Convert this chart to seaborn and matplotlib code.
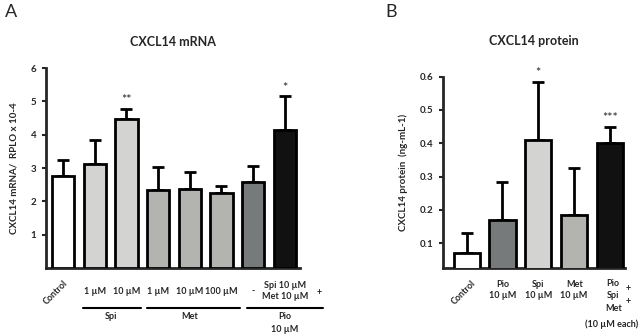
import matplotlib.pyplot as plt
import matplotlib.transforms as mtransforms
import numpy as np
import pandas as pd
import seaborn as sns

# Panel A: CXCL14 mRNA
mrna_groups = ['Control', 'Spi 1', 'Spi 10', 'Met 1', 'Met 10', 'Met 100', 'Pio', 'Pio+Spi+Met']
mrna_mean = [2.75, 3.12, 4.47, 2.33, 2.38, 2.25, 2.58, 4.15]
mrna_sem = [0.50, 0.73, 0.31, 0.70, 0.49, 0.20, 0.47, 1.00]
mrna_stars = ['', '', '**', '', '', '', '', '*']
mrna_ticklabels = ['1 µM', '10 µM', '1 µM', '10 µM', '100 µM', '-', 'Spi 10 µM\nMet 10 µM']

# Panel B: CXCL14 protein
prot_groups = ['Control', 'Pio', 'Spi', 'Met', 'Pio+Spi+Met']
prot_mean = [0.070, 0.170, 0.410, 0.185, 0.400]
prot_sem = [0.060, 0.115, 0.175, 0.140, 0.050]
prot_stars = ['', '', '*', '', '***']
prot_ticklabels = ['Pio\n10 µM', 'Spi\n10 µM', 'Met\n10 µM', 'Pio\nSpi\nMet']

WHITE, SPI, MET, PIO, COMBO = '#ffffff', '#d3d3d1', '#b4b3af', '#757a7c', '#111111'
mrna_colors = [WHITE, SPI, SPI, MET, MET, MET, PIO, COMBO]
prot_colors = [WHITE, PIO, SPI, MET, COMBO]

sns.set_style('white')
plt.rcParams['font.family'] = ['Lato', 'DejaVu Sans']
plt.rcParams['axes.linewidth'] = 2
FS = 7     # axis text
XFS = 6.5  # category labels

fig = plt.figure(figsize=(6.4, 3.36), dpi=100)
axA = fig.add_axes([46 / 640, 68 / 336, 254 / 640, 200 / 336])
axB = fig.add_axes([443 / 640, 68.3 / 336, 182 / 640, 191 / 336])


def draw_bars(ax, groups, means, sems, colors, stars, width):
    df = pd.DataFrame({'group': groups, 'value': means})
    sns.barplot(data=df, x='group', y='value', hue='group', palette=colors,
                order=groups, hue_order=groups, legend=False, errorbar=None,
                width=width, edgecolor='black', linewidth=2, ax=ax, zorder=3)
    x = np.arange(len(groups))
    ax.errorbar(x, means, yerr=[np.zeros(len(sems)), sems], fmt='none',
                ecolor='black', elinewidth=2, capsize=4.5, capthick=2, zorder=2)
    for xi, m, s, st in zip(x, means, sems, stars):
        if st:
            ax.annotate(st, (xi, m + s), xytext=(0, 2), textcoords='offset points',
                        ha='center', va='bottom', fontsize=9, color='#222222')
    sns.despine(ax=ax)
    ax.set_xticks([])
    ax.set_xlabel('')
    ax.tick_params(axis='y', direction='out', length=3, width=1.5, pad=4,
                   labelsize=FS, left=True)
    for lbl in ax.get_yticklabels():
        lbl.set_fontweight('bold')


# ---- Panel A ----
draw_bars(axA, mrna_groups, mrna_mean, mrna_sem, mrna_colors, mrna_stars, 0.7)
axA.set_xlim(-0.54, 7.48)
axA.set_ylim(0, 6)
axA.set_yticks([1, 2, 3, 4, 5, 6])
axA.set_ylabel('CXCL14 mRNA/  RPLO x 10-4', fontsize=FS, fontweight='bold', labelpad=9)
axA.set_title('CXCL14 mRNA', fontsize=9, fontweight='bold', pad=16)

trA = mtransforms.blended_transform_factory(axA.transData, axA.transAxes)
axA.text(-0.25, -0.125, 'Control', transform=trA, rotation=45, ha='center', va='center',
         fontsize=XFS, fontweight='bold')
for xi, lbl in zip(range(1, 8), mrna_ticklabels):
    axA.text(xi, -0.115, lbl, transform=trA, ha='center', va='center',
             fontsize=XFS, fontweight='bold', linespacing=1.25)
axA.text(8.1, -0.123, '+', transform=trA, ha='center', va='center',
         fontsize=XFS, fontweight='bold', clip_on=False)
for x0, x1, name, xc in [(0.63, 2.46, 'Spi', 1.5), (2.65, 5.58, 'Met', 4.0),
                         (5.8, 8.2, 'Pio\n10 µM', 7.0)]:
    axA.plot([x0, x1], [-0.199, -0.199], transform=trA, color='black', lw=1.5,
             clip_on=False)
    axA.text(xc, -0.222, name, transform=trA, ha='center', va='top',
             fontsize=XFS, fontweight='bold', linespacing=1.45)

# ---- Panel B ----
draw_bars(axB, prot_groups, prot_mean, prot_sem, prot_colors, prot_stars, 0.73)
axB.set_xlim(-0.66, 4.42)
axB.set_ylim(0.0264, 0.6)
axB.set_yticks([0.1, 0.2, 0.3, 0.4, 0.5, 0.6])
axB.set_ylabel('CXCL14 protein  (ng-mL-1)', fontsize=FS, fontweight='bold', labelpad=8)
axB.set_title('CXCL14 protein', fontsize=9, fontweight='bold', pad=23)

trB = mtransforms.blended_transform_factory(axB.transData, axB.transAxes)
axB.text(-0.1, -0.132, 'Control', transform=trB, rotation=45, ha='center', va='center',
         fontsize=XFS, fontweight='bold')
for xi, lbl in zip(range(1, 4), prot_ticklabels[:3]):
    axB.text(xi, -0.117, lbl, transform=trB, ha='center', va='center',
             fontsize=XFS, fontweight='bold', linespacing=1.35)
axB.text(4.09, -0.148, prot_ticklabels[3], transform=trB, ha='center', va='center',
         fontsize=XFS, fontweight='bold', linespacing=1.45)
for yy in (-0.108, -0.178):
    axB.text(4.5, yy, '+', transform=trB, ha='center', va='center',
             fontsize=XFS, fontweight='bold', clip_on=False)
axB.text(4.06, -0.295, '(10 µM each)', transform=trB, ha='center', va='center',
         fontsize=XFS, fontweight='bold')

fig.text(5 / 640, 1 - 12 / 336, 'A', fontsize=13, va='center', ha='left')
fig.text(385 / 640, 1 - 12 / 336, 'B', fontsize=13, va='center', ha='left')

fig.savefig('out.png', dpi=100)
